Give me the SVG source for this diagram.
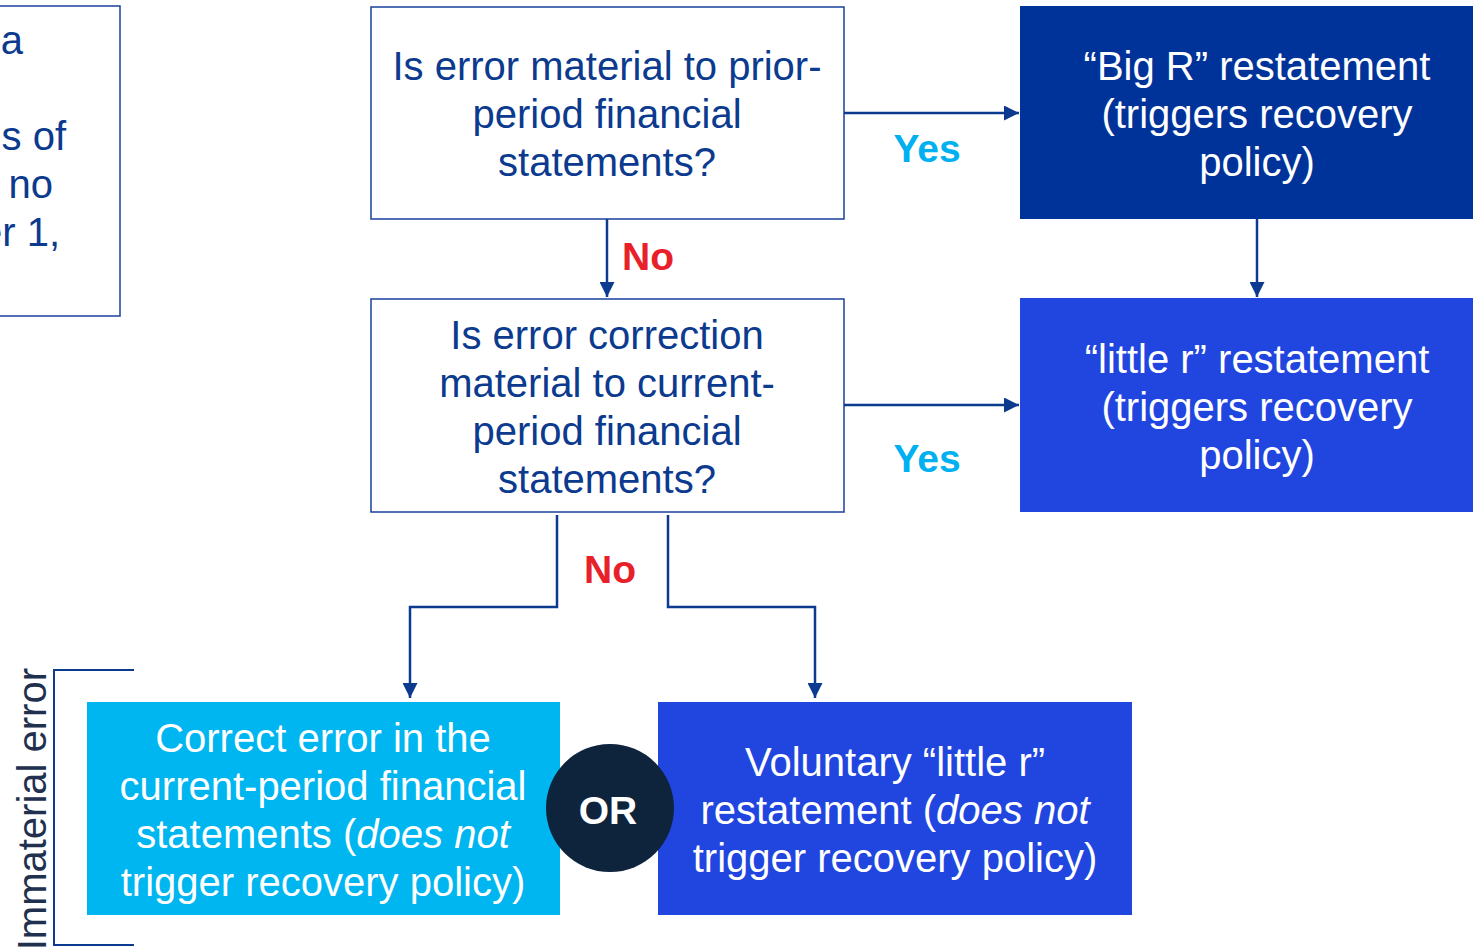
<svg xmlns="http://www.w3.org/2000/svg" width="1473" height="947" viewBox="0 0 1473 947">
  <style>
    .t { font-family: "Liberation Sans", Arial, sans-serif; font-size: 40px; text-anchor: middle; }
    .dk { fill: #0b3a8e; }
    .wt { fill: #ffffff; }
    .q { fill: #ffffff; stroke: #1a3f9c; stroke-width: 1.5; }
    .lbl { font-family: "Liberation Sans", Arial, sans-serif; font-size: 39px; font-weight: bold; text-anchor: middle; }
    .yes { fill: #00b0f0; }
    .no { fill: #e8202a; }
    .conn { fill: none; stroke: #0b3a8e; stroke-width: 2.5; }
  </style>
  <defs>
    <marker id="arr" viewBox="0 0 10 10" refX="10" refY="5" markerWidth="6.2" markerHeight="6" orient="auto" markerUnits="strokeWidth">
      <path d="M0,0 L10,5 L0,10 z" fill="#0b3a8e"/>
    </marker>
  </defs>
  <rect width="1473" height="947" fill="#ffffff"/>

  <!-- partially visible note box at the left edge -->
  <g id="note">
    <rect x="-4" y="6" width="124" height="310" class="q"/>
    <text class="t dk" style="text-anchor:end" x="23" y="54">a</text>
    <text class="t dk" style="text-anchor:end" x="66" y="150">s of</text>
    <text class="t dk" style="text-anchor:end" x="53" y="198">no</text>
    <text class="t dk" style="text-anchor:end" x="60" y="246">er 1,</text>
  </g>

  <g id="q-prior">
    <rect x="371" y="7" width="473" height="212" class="q"/>
    <text class="t dk" x="607" y="80">Is error material to prior-</text>
    <text class="t dk" x="607" y="128">period financial</text>
    <text class="t dk" x="607" y="176">statements?</text>
  </g>

  <g id="big-r">
    <rect x="1020" y="6" width="460" height="213" fill="#003399"/>
    <text class="t wt" x="1257" y="80">“Big R” restatement</text>
    <text class="t wt" x="1257" y="128">(triggers recovery</text>
    <text class="t wt" x="1257" y="176">policy)</text>
  </g>

  <g id="q-current">
    <rect x="371" y="299" width="473" height="213" class="q"/>
    <text class="t dk" x="607" y="349">Is error correction</text>
    <text class="t dk" x="607" y="397">material to current-</text>
    <text class="t dk" x="607" y="445">period financial</text>
    <text class="t dk" x="607" y="493">statements?</text>
  </g>

  <g id="little-r">
    <rect x="1020" y="298" width="460" height="214" fill="#2146df"/>
    <text class="t wt" x="1257" y="373">“little r” restatement</text>
    <text class="t wt" x="1257" y="421">(triggers recovery</text>
    <text class="t wt" x="1257" y="469">policy)</text>
  </g>

  <g id="correct-current">
    <rect x="87" y="702" width="473" height="213" fill="#00b6f0"/>
    <text class="t wt" x="323" y="752">Correct error in the</text>
    <text class="t wt" x="323" y="800">current-period financial</text>
    <text class="t wt" x="323" y="848">statements (<tspan font-style="italic">does not</tspan></text>
    <text class="t wt" x="323" y="896">trigger recovery policy)</text>
  </g>

  <g id="voluntary">
    <rect x="658" y="702" width="474" height="213" fill="#2146df"/>
    <text class="t wt" x="895" y="776">Voluntary “little r”</text>
    <text class="t wt" x="895" y="824">restatement (<tspan font-style="italic">does not</tspan></text>
    <text class="t wt" x="895" y="872">trigger recovery policy)</text>
  </g>

  <g id="or">
    <circle cx="610" cy="808" r="64" fill="#0e243d"/>
    <text class="lbl wt" x="608" y="824" font-size="40">OR</text>
  </g>

  <g id="immaterial">
    <path d="M134,670 H54 V945 H134" fill="none" stroke="#0b3a8e" stroke-width="2"/>
    <text class="t" fill="#22304f" style="text-anchor:end" transform="translate(46,668) rotate(-90)">Immaterial error</text>
  </g>

  <g id="connectors">
    <path class="conn" d="M844,113 H1019" marker-end="url(#arr)"/>
    <path class="conn" d="M607,219 V297" marker-end="url(#arr)"/>
    <path class="conn" d="M1257,219 V297" marker-end="url(#arr)"/>
    <path class="conn" d="M844,405 H1019" marker-end="url(#arr)"/>
    <path class="conn" d="M557,515 V607 H410 V698" marker-end="url(#arr)"/>
    <path class="conn" d="M668,515 V607 H815 V698" marker-end="url(#arr)"/>
    <text class="lbl yes" x="927" y="162">Yes</text>
    <text class="lbl no" x="648" y="270">No</text>
    <text class="lbl yes" x="927" y="472">Yes</text>
    <text class="lbl no" x="610" y="583">No</text>
  </g>
</svg>
